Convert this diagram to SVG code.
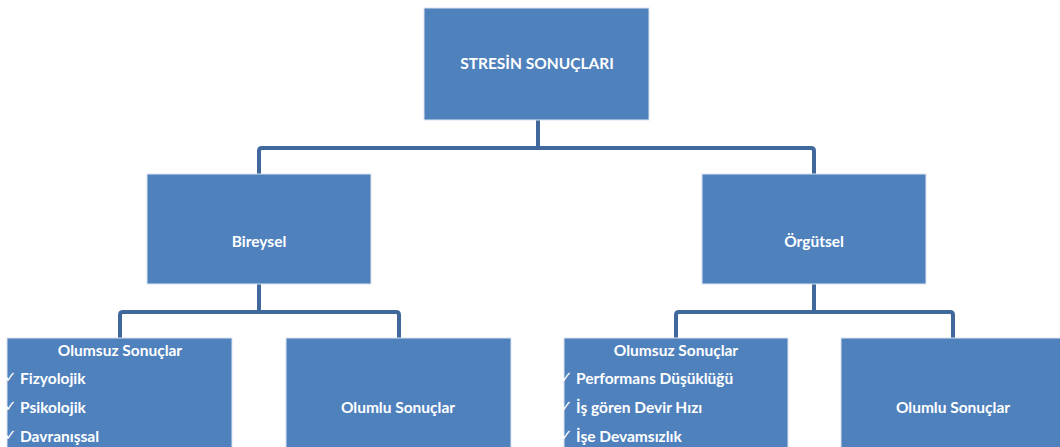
<svg xmlns="http://www.w3.org/2000/svg" width="1060" height="447" viewBox="0 0 1060 447">
<style>
.box{fill:#4F81BD;stroke:#dbe4f0;stroke-width:1}
.t{font-family:Lato,"Open Sans","Liberation Sans",sans-serif;font-weight:bold;font-size:15.5px;fill:#ffffff}
.c{text-anchor:middle}
.ck{font-family:"DejaVu Sans",sans-serif;font-size:15px;fill:#ffffff}
.con{fill:none;stroke:#41689A;stroke-width:4;stroke-linejoin:round}
</style>
<rect width="1060" height="447" fill="#ffffff"/>
<g id="connectors">
<path class="con" d="M538,120 V148"/>
<path class="con" d="M259,175 V151 Q259,148 262,148 H811 Q814,148 814,151 V175"/>
<path class="con" d="M259,284 V312"/>
<path class="con" d="M120,338 V315 Q120,312 123,312 H396 Q399,312 399,315 V338"/>
<path class="con" d="M814,284 V312"/>
<path class="con" d="M676,338 V315 Q676,312 679,312 H950 Q953,312 953,315 V338"/>
</g>
<g id="root">
<rect class="box" x="424" y="8" width="225" height="112"/>
<text class="t c" x="537" y="69">STRESİN SONUÇLARI</text>
</g>
<g id="bireysel">
<rect class="box" x="147" y="174" width="224" height="110"/>
<text class="t c" x="259" y="247">Bireysel</text>
</g>
<g id="orgutsel">
<rect class="box" x="702" y="174" width="224" height="110"/>
<text class="t c" x="814" y="247">Örgütsel</text>
</g>
<g id="bireysel-olumsuz">
<rect class="box" x="7" y="338" width="225" height="115"/>
<text class="t c" x="120" y="356">Olumsuz Sonuçlar</text>
<text class="ck" x="4" y="382">✓</text><text class="t" x="20" y="384">Fizyolojik</text>
<text class="ck" x="4" y="411">✓</text><text class="t" x="20" y="413">Psikolojik</text>
<text class="ck" x="4" y="440">✓</text><text class="t" x="20" y="442">Davranışsal</text>
</g>
<g id="bireysel-olumlu">
<rect class="box" x="286" y="338" width="225" height="115"/>
<text class="t c" x="398" y="413">Olumlu Sonuçlar</text>
</g>
<g id="orgutsel-olumsuz">
<rect class="box" x="564" y="338" width="224" height="115"/>
<text class="t c" x="676" y="356">Olumsuz Sonuçlar</text>
<text class="ck" x="560" y="382">✓</text><text class="t" x="576" y="384">Performans Düşüklüğü</text>
<text class="ck" x="560" y="411">✓</text><text class="t" x="576" y="413">İş gören Devir Hızı</text>
<text class="ck" x="560" y="440">✓</text><text class="t" x="576" y="442">İşe Devamsızlık</text>
</g>
<g id="orgutsel-olumlu">
<rect class="box" x="841" y="338" width="225" height="115"/>
<text class="t c" x="953" y="413">Olumlu Sonuçlar</text>
</g>
</svg>
